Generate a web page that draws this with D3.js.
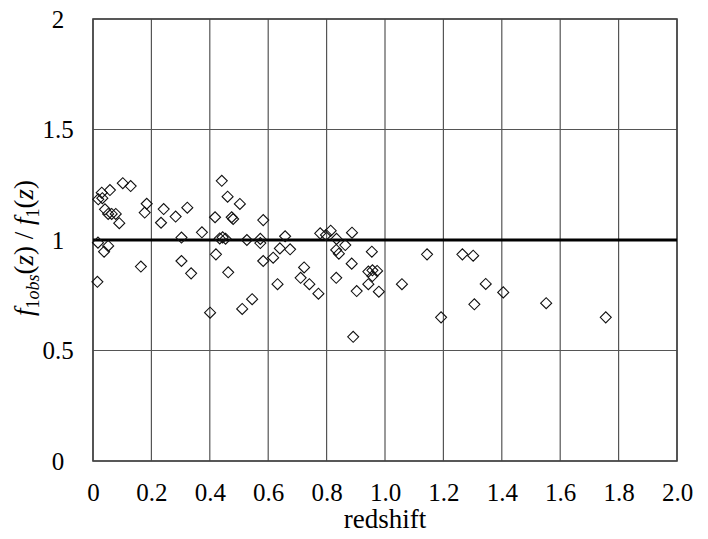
<!DOCTYPE html>
<html>
<head>
<meta charset="utf-8">
<script src="https://cdn.jsdelivr.net/npm/d3@7"></script>
<style>
  html, body { margin: 0; padding: 0; background: #fff; }
  svg { display: block; }
</style>
</head>
<body>
<svg id="chart" width="708" height="539"></svg>
<script>
// ---- data ----
const redshift = [0.102,0.129,0.058,0.030,0.018,0.032,0.041,0.052,0.064,0.078,0.090,0.017,0.052,0.038,0.015,
  0.164,0.184,0.177,0.242,0.233,0.283,0.323,0.303,0.303,0.336,0.373,0.401,0.418,0.421,0.441,0.461,0.475,0.480,
  0.434,0.444,0.454,0.463,0.503,0.527,0.511,0.545,0.583,0.573,0.573,0.583,0.617,0.632,0.640,0.675,0.658,0.723,
  0.711,0.741,0.772,0.778,0.798,0.814,0.834,0.833,0.842,0.864,0.887,0.886,0.833,0.891,0.903,0.955,0.943,0.957,
  0.973,0.957,0.943,0.979,1.058,1.144,1.192,1.265,1.302,1.345,1.306,1.405,1.552,1.756];
const ratio = [1.257,1.244,1.226,1.214,1.184,1.189,1.139,1.118,1.118,1.118,1.076,0.988,0.973,0.947,0.811,
  0.880,1.164,1.124,1.140,1.078,1.106,1.146,1.011,0.905,0.849,1.035,0.671,1.103,0.935,1.268,1.196,1.103,1.095,
  1.007,1.012,1.006,0.854,1.163,1.000,0.688,0.732,1.090,1.005,0.986,0.905,0.920,0.800,0.962,0.958,1.017,0.876,
  0.829,0.800,0.757,1.030,1.023,1.042,1.005,0.955,0.938,0.977,1.033,0.893,0.829,0.562,0.769,0.947,0.857,0.863,
  0.860,0.837,0.800,0.766,0.800,0.935,0.650,0.935,0.929,0.801,0.709,0.763,0.714,0.650];
const refLineX = [0, 2.0];
const refLineY = [1, 1];
const xTicks = [0, 0.2, 0.4, 0.6, 0.8, 1.0, 1.2, 1.4, 1.6, 1.8, 2.0];
const xTickLabels = ["0", "0.2", "0.4", "0.6", "0.8", "1.0", "1.2", "1.4", "1.6", "1.8", "2.0"];
const yTicks = [0, 0.5, 1, 1.5, 2];
const yTickLabels = ["0", "0.5", "1", "1.5", "2"];

// ---- layout ----
const FONT = "'Liberation Serif', 'DejaVu Serif', 'Times New Roman', serif";
const svg = d3.select("#chart");
const L = 93, R = 677, T = 19, B = 461;
const x = d3.scaleLinear().domain([0, 2]).range([L, R]);
const y = d3.scaleLinear().domain([0, 2]).range([B, T]);

// grid
const grid = svg.append("g");
grid.selectAll("line.v").data(xTicks).join("line")
  .attr("x1", d => x(d)).attr("x2", d => x(d)).attr("y1", T).attr("y2", B)
  .attr("stroke", "#555").attr("stroke-width", 1.2);
grid.selectAll("line.h").data(yTicks).join("line")
  .attr("x1", L).attr("x2", R).attr("y1", d => y(d)).attr("y2", d => y(d))
  .attr("stroke", "#555").attr("stroke-width", 1.2);
svg.append("rect").attr("x", L).attr("y", T).attr("width", R - L).attr("height", B - T)
  .attr("fill", "none").attr("stroke", "#444").attr("stroke-width", 1.6);

// axes (labels only, via d3 axis)
const xAxis = d3.axisBottom(x).tickValues(xTicks).tickFormat((d, i) => xTickLabels[i]).tickSize(0).tickPadding(0);
const gx = svg.append("g").attr("transform", `translate(0,${B + 22})`).call(xAxis);
gx.select(".domain").remove();
gx.selectAll("text").attr("dy", "0.71em")
  .style("font-family", FONT).style("font-size", "25px").style("fill", "#000");

const yAxis = d3.axisLeft(y).tickValues(yTicks).tickFormat((d, i) => yTickLabels[i]).tickSize(0).tickPadding(0);
const gy = svg.append("g").attr("transform", `translate(58,0)`).call(yAxis);
gy.select(".domain").remove();
gy.selectAll("text").attr("text-anchor", "middle").attr("x", 0)
  .style("font-family", FONT).style("font-size", "25px").style("fill", "#000");

// reference line
svg.append("path")
  .datum(refLineX.map((d, i) => [d, refLineY[i]]))
  .attr("d", d3.line().x(d => x(d[0])).y(d => y(d[1])))
  .attr("stroke", "#000").attr("stroke-width", 3.2).attr("fill", "none");

// points (open diamonds)
const pts = redshift.map((d, i) => [d, ratio[i]]);
const r = 5.5;
svg.append("g").selectAll("path").data(pts).join("path")
  .attr("d", d => {
    const cx = x(d[0]), cy = y(d[1]);
    return `M${cx - r},${cy}L${cx},${cy - r}L${cx + r},${cy}L${cx},${cy + r}Z`;
  })
  .attr("fill", "none").attr("stroke", "#111").attr("stroke-width", 1.1);

// x title
svg.append("text").attr("x", (L + R) / 2).attr("y", 528).attr("text-anchor", "middle")
  .style("font-family", FONT).style("font-size", "27px").text("redshift");

// y title
const yt = svg.append("text")
  .attr("transform", `translate(33,${(T + B) / 2 + 8}) rotate(-90)`)
  .attr("text-anchor", "middle")
  .style("font-family", FONT).style("font-size", "27px").style("font-style", "italic");
yt.append("tspan").text("f");
yt.append("tspan").style("font-size", "18px").attr("dy", 6).style("font-style", "normal").text("1");
yt.append("tspan").style("font-size", "18px").text("obs");
yt.append("tspan").attr("dy", -6).style("font-style", "normal").text("(");
yt.append("tspan").text("z");
yt.append("tspan").style("font-style", "normal").text(") / ");
yt.append("tspan").text("f");
yt.append("tspan").style("font-size", "18px").attr("dy", 6).style("font-style", "normal").text("1");
yt.append("tspan").attr("dy", -6).style("font-style", "normal").text("(");
yt.append("tspan").text("z");
yt.append("tspan").style("font-style", "normal").text(")");
</script>
</body>
</html>
